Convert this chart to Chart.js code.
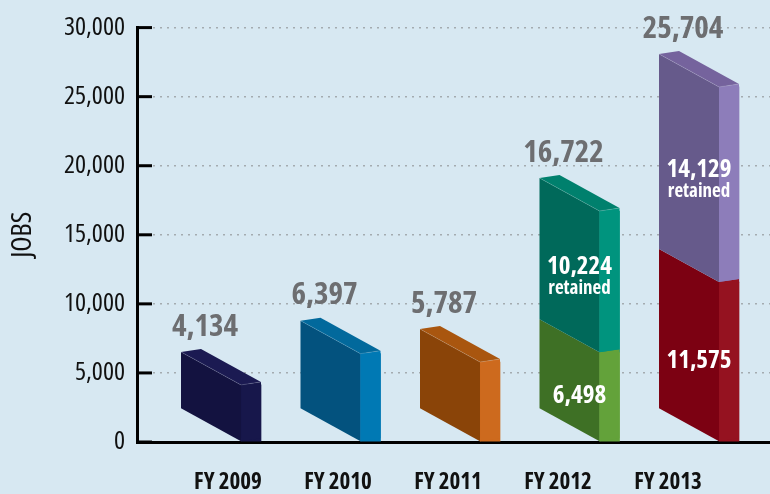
<!DOCTYPE html>
<html>
<head>
<meta charset="utf-8">
<script src="https://cdn.jsdelivr.net/npm/chart.js@4"></script>
<style>
  html, body { margin: 0; padding: 0; background: #d7e8f2; }
  #wrap { width: 770px; height: 494px; }
</style>
</head>
<body>
<div id="wrap"><canvas id="jobsChart" width="770" height="494"></canvas></div>
<script>
// ---- data ----
const categories = ['FY 2009', 'FY 2010', 'FY 2011', 'FY 2012', 'FY 2013'];
const createdJobs = [4134, 6397, 5787, 6498, 11575];
const retainedJobs = [null, null, null, 10224, 14129];
const yTicks = [0, 5000, 10000, 15000, 20000, 25000, 30000];

// Open Sans has a width axis; "condensed" goes in front of the size in the font string
const FAMILY = "'Open Sans', 'Roboto Condensed', sans-serif";
const font = (w, px) => w + ' ' + px + 'px ' + FAMILY;

// face colours per year (front / side / top)
const createdFront = ['#131240', '#03527e', '#8a4408', '#3e7025', '#7c0112'];
const createdSide = ['#17174b', '#0079b4', '#cd6a1e', '#63a23a', '#951220'];
const createdTop = ['#1b1a52', '#02699c', '#a9560f', '#4f8a2f', '#8a0a19'];
const retainedFront = [null, null, null, '#00695a', '#665a8b'];
const retainedSide = [null, null, null, '#00947e', '#8d7dba'];
const retainedTop = [null, null, null, '#00806d', '#75639d'];

const DX = 60, DY = 33, RISE = 3;

function poly(ctx, pts, fill) {
  ctx.beginPath();
  ctx.moveTo(pts[0][0], pts[0][1]);
  for (let k = 1; k < pts.length; k++) ctx.lineTo(pts[k][0], pts[k][1]);
  ctx.closePath();
  ctx.fillStyle = fill;
  ctx.fill();
}

// draws the slanted front + top faces next to each bar (the bar is the side face)
const boxes3d = {
  id: 'boxes3d',
  afterDatasetsDraw(chart) {
    const ctx = chart.ctx;
    const layers = [
      { meta: chart.getDatasetMeta(0), vals: createdJobs, front: createdFront, side: createdSide, top: createdTop },
      { meta: chart.getDatasetMeta(1), vals: retainedJobs, front: retainedFront, side: retainedSide, top: retainedTop }
    ];
    ctx.save();
    ctx.textAlign = 'center';
    ctx.textBaseline = 'middle';
    categories.forEach((c, i) => {
      const segs = layers.filter(l => l.vals[i] != null);
      segs.forEach((l, n) => {
        const p = l.meta.data[i].getProps(['x', 'y', 'base', 'width'], true);
        const xl = p.x - p.width / 2, xr = p.x + p.width / 2;
        poly(ctx, [[xl - DX, p.y - DY], [xl, p.y], [xl, p.base], [xl - DX, p.base - DY]], l.front[i]);
        poly(ctx, [[xl, p.y], [xr, p.y - RISE], [xr, p.base - RISE], [xl, p.base]], l.side[i]);
        if (n === segs.length - 1) {
          poly(ctx, [[xl - DX, p.y - DY], [xl - DX + p.width, p.y - DY - RISE], [xr, p.y - RISE], [xl, p.y]], l.top[i]);
          ctx.strokeStyle = 'rgba(255,255,255,0.18)';
          ctx.lineWidth = 0.8;
          ctx.beginPath();
          ctx.moveTo(xl - DX, p.y - DY);
          ctx.lineTo(xl, p.y);
          ctx.lineTo(xr, p.y - RISE);
          ctx.stroke();
          // total above the box
          const total = createdJobs[i] + (retainedJobs[i] || 0);
          ctx.fillStyle = '#6d6e71';
          ctx.font = font('condensed bold', 31);
          ctx.fillText(total.toLocaleString('en-US'), p.x - 46, p.y - DY - 25);
        }
        // labels inside stacked boxes
        if (segs.length > 1) {
          const mid = (p.y + p.base) / 2 - 4;
          ctx.fillStyle = '#ffffff';
          const txt = l.vals[i].toLocaleString('en-US');
          if (l.vals === retainedJobs) {
            ctx.font = font('condensed bold', 25);
            ctx.fillText(txt, p.x - 30, mid - 11);
            ctx.font = font('condensed bold', 19);
            ctx.fillText('retained', p.x - 30, mid + 11);
          } else {
            ctx.font = font('condensed bold', 25);
            ctx.fillText(txt, p.x - 30, mid + 3);
          }
        }
      });
    });
    ctx.restore();
  }
};

// short solid tick marks on the inside of the y axis
const innerTicks = {
  id: 'innerTicks',
  afterDraw(chart) {
    const y = chart.scales.y, ctx = chart.ctx, left = chart.chartArea.left;
    ctx.save();
    ctx.strokeStyle = '#000';
    ctx.lineWidth = 3;
    y.ticks.forEach(t => {
      const py = y.getPixelForValue(t.value);
      ctx.beginPath();
      ctx.moveTo(left, py);
      ctx.lineTo(left + 15, py);
      ctx.stroke();
    });
    ctx.restore();
  }
};

new Chart(document.getElementById('jobsChart'), {
  type: 'bar',
  data: {
    datasets: [
      { label: 'Jobs', data: createdJobs.map((y, x) => ({ x, y })), backgroundColor: createdSide, barThickness: 20, stack: 'jobs' },
      { label: 'Retained', data: retainedJobs.map((y, x) => ({ x, y })), backgroundColor: retainedSide, barThickness: 20, stack: 'jobs' }
    ]
  },
  options: {
    responsive: false,
    animation: false,
    devicePixelRatio: 1,
    layout: { padding: { top: 23, right: 0, bottom: 0, left: 0 } },
    plugins: { legend: { display: false }, tooltip: { enabled: false } },
    scales: {
      // axis the boxes sit on
      x: {
        type: 'linear',
        position: 'bottom',
        weight: 0,
        stacked: true,
        offset: false,
        min: -0.954,
        max: 4.343,
        afterFit: s => { s.height = 0; },
        grid: { display: false, drawTicks: false, offset: false },
        border: { display: true, color: '#000', width: 3 },
        ticks: { display: false }
      },
      // year labels (spaced a little tighter than the boxes in the original)
      xLabels: {
        type: 'linear',
        position: 'bottom',
        weight: 1,
        offset: false,
        min: -0.827,
        max: 4.927,
        afterBuildTicks: s => { s.ticks = categories.map((c, i) => ({ value: i })); },
        afterFit: s => { s.height = 52; },
        grid: { display: false, drawTicks: false },
        border: { display: false },
        ticks: {
          callback: v => categories[v],
          color: '#111',
          font: { family: FAMILY, size: 23, weight: 'condensed bold' },
          padding: 27,
          maxRotation: 0
        }
      },
      y: {
        stacked: true,
        min: 0,
        max: 30000,
        afterBuildTicks: s => { s.ticks = yTicks.map(v => ({ value: v })); },
        afterFit: s => { s.width = 137; },
        grid: { color: '#a4abb0', lineWidth: 1.5, drawTicks: false },
        border: { display: true, color: '#000', width: 3, dash: [2, 5] },
        ticks: {
          callback: v => v.toLocaleString('en-US'),
          color: '#111',
          font: { family: FAMILY, size: 26, weight: 'condensed' },
          padding: 12
        },
        title: {
          display: true,
          text: 'JOBS',
          color: '#111',
          font: { family: FAMILY, size: 28, weight: 'condensed' },
          padding: { top: 6, bottom: 0 }
        }
      }
    }
  },
  plugins: [boxes3d, innerTicks]
});
</script>
</body>
</html>
